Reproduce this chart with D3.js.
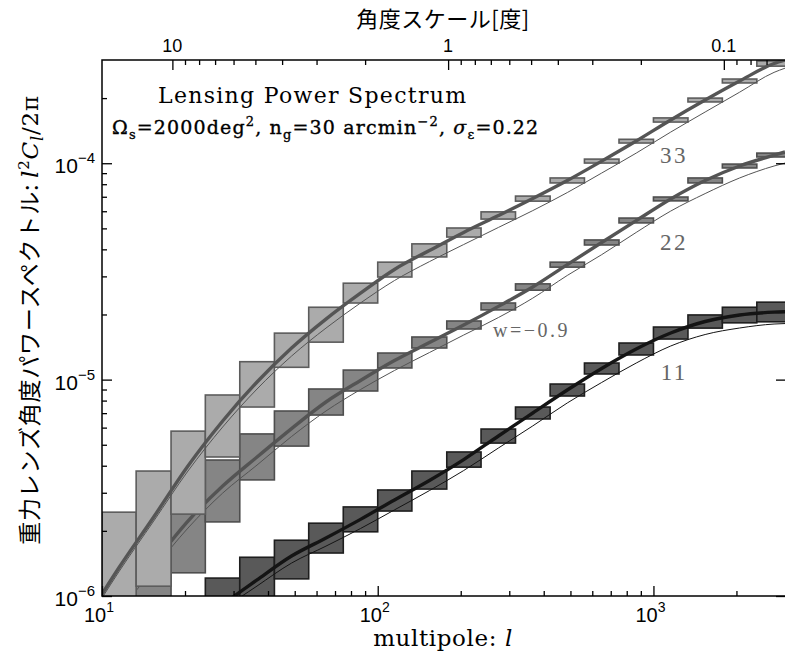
<!DOCTYPE html>
<html>
<head>
<meta charset="utf-8">
<script src="https://cdn.jsdelivr.net/npm/d3@7"></script>
<style>
  body { margin: 0; background: #fff; }
  svg { display: block; }
</style>
</head>
<body>
<svg id="chart" width="785" height="652"></svg>
<script>
// multipole bin edges (8 bins per decade)
const binEdges = [10, 13.3, 17.8, 23.7, 31.6, 42.2, 56.2, 75.0, 100, 133, 178, 237, 316, 422, 562, 750, 1000, 1334, 1778, 2371, 3162]

// error boxes: lower / upper value in each bin (null = not shown)
const box11Lo = [null, null, null, 7.3e-7, 9.5e-7, 1.20e-6, 1.58e-6, 1.98e-6, 2.47e-6, 3.12e-6, 3.94e-6, 5.09e-6, 6.58e-6, 8.40e-6, 1.062e-5, 1.30e-5, 1.54e-5, 1.73e-5, 1.83e-5, 1.85e-5]
const box11Hi = [null, null, null, 1.21e-6, 1.51e-6, 1.81e-6, 2.17e-6, 2.58e-6, 3.09e-6, 3.78e-6, 4.63e-6, 5.91e-6, 7.47e-6, 9.54e-6, 1.193e-5, 1.476e-5, 1.75e-5, 1.99e-5, 2.16e-5, 2.28e-5]
const box22Lo = [null, 5.28e-7, 1.28e-6, 2.20e-6, 3.44e-6, 4.93e-6, 6.86e-6, 8.86e-6, 1.132e-5, 1.40e-5, 1.714e-5, 2.10e-5, 2.59e-5, 3.31e-5, 4.19e-5, 5.30e-5, 6.70e-5, 8.11e-5, 9.51e-5, 1.069e-4]
const box22Hi = [null, 2.0e-6, 3.3e-6, 4.25e-6, 5.61e-6, 7.16e-6, 9.05e-6, 1.107e-5, 1.327e-5, 1.574e-5, 1.866e-5, 2.26e-5, 2.77e-5, 3.49e-5, 4.42e-5, 5.58e-5, 6.98e-5, 8.55e-5, 9.91e-5, 1.114e-4]
const box33Lo = [8.4e-7, 1.11e-6, 2.39e-6, 4.39e-6, 7.47e-6, 1.14e-5, 1.49e-5, 2.26e-5, 2.98e-5, 3.69e-5, 4.56e-5, 5.52e-5, 6.68e-5, 8.11e-5, 1.002e-4, 1.24e-4, 1.55e-4, 1.92e-4, 2.35e-4, 2.81e-4]
const box33Hi = [2.44e-6, 3.78e-6, 5.78e-6, 8.49e-6, 1.21e-5, 1.64e-5, 2.16e-5, 2.79e-5, 3.49e-5, 4.24e-5, 5.02e-5, 5.96e-5, 7.05e-5, 8.55e-5, 1.045e-4, 1.29e-4, 1.62e-4, 2.00e-4, 2.45e-4, 2.97e-4]

// model curves (thick = fiducial, thin = w=-0.9), sampled at these multipoles
const curveL = [10, 11.5, 15.4, 20.5, 27.4, 36.5, 48.7, 64.9, 86.6, 115, 154, 205, 274, 365, 487, 649, 866, 1155, 1540, 2054, 2738, 3000]
const fid11 = [2.67e-7, 3.31e-7, 4.65e-7, 6.53e-7, 9.09e-7, 1.186e-6, 1.53e-6, 1.853e-6, 2.26e-6, 2.78e-6, 3.42e-6, 4.27e-6, 5.49e-6, 7.01e-6, 8.95e-6, 1.126e-5, 1.385e-5, 1.642e-5, 1.856e-5, 1.989e-5, 2.05e-5, 2.06e-5]
const alt11 = [2.56e-7, 3.17e-7, 4.45e-7, 6.19e-7, 8.62e-7, 1.112e-6, 1.42e-6, 1.70e-6, 2.05e-6, 2.50e-6, 3.07e-6, 3.80e-6, 4.83e-6, 6.11e-6, 7.80e-6, 9.70e-6, 1.193e-5, 1.43e-5, 1.616e-5, 1.732e-5, 1.807e-5, 1.816e-5]
const fid22 = [6.89e-7, 8.80e-7, 1.42e-6, 2.22e-6, 3.22e-6, 4.39e-6, 5.94e-6, 7.88e-6, 9.91e-6, 1.225e-5, 1.484e-5, 1.787e-5, 2.18e-5, 2.68e-5, 3.40e-5, 4.30e-5, 5.43e-5, 6.84e-5, 8.32e-5, 9.71e-5, 1.09e-4, 1.127e-4]
const alt22 = [6.53e-7, 8.35e-7, 1.333e-6, 2.06e-6, 2.99e-6, 4.03e-6, 5.46e-6, 7.16e-6, 9.00e-6, 1.102e-5, 1.334e-5, 1.607e-5, 1.936e-5, 2.38e-5, 3.03e-5, 3.78e-5, 4.79e-5, 6.01e-5, 7.24e-5, 8.55e-5, 9.71e-5, 1.002e-4]
const fid33 = [1.021e-6, 1.347e-6, 2.318e-6, 3.99e-6, 6.44e-6, 9.75e-6, 1.40e-5, 1.905e-5, 2.51e-5, 3.23e-5, 3.95e-5, 4.79e-5, 5.73e-5, 6.87e-5, 8.32e-5, 1.023e-4, 1.267e-4, 1.585e-4, 1.96e-4, 2.40e-4, 2.89e-4, 3.00e-4]
const alt33 = [9.79e-7, 1.291e-6, 2.22e-6, 3.78e-6, 6.04e-6, 9.05e-6, 1.285e-5, 1.73e-5, 2.26e-5, 2.87e-5, 3.51e-5, 4.21e-5, 5.05e-5, 6.04e-5, 7.32e-5, 9.01e-5, 1.114e-4, 1.393e-4, 1.725e-4, 2.13e-4, 2.63e-4, 2.75e-4]

// ticks
const xMajor = [10, 100, 1000]
const xMajorExp = ["1", "2", "3"]
const xMinor = [20, 30, 40, 50, 60, 70, 80, 90, 200, 300, 400, 500, 600, 700, 800, 900, 2000]
const yMajor = [1e-6, 1e-5, 1e-4]
const yMajorExp = ["\u22126", "\u22125", "\u22124"]
const yMinor = [2e-6, 3e-6, 4e-6, 5e-6, 6e-6, 7e-6, 8e-6, 9e-6, 2e-5, 3e-5, 4e-5, 5e-5, 6e-5, 7e-5, 8e-5, 9e-5, 2e-4]
const topMajor = [10, 1, 0.1]
const topLabels = ["10", "1", "0.1"]
const topMinor = [9, 8, 7, 6, 5, 4, 3, 2, 0.9, 0.8, 0.7, 0.6, 0.5, 0.4, 0.3, 0.2, 0.09, 0.08, 0.07]

const L = 102, R = 786, T = 60, B = 596

const svg = d3.select("#chart")

const x = d3.scaleLog().domain([10, 3000]).range([L, 785])
const y = d3.scaleLog().domain([1e-6, 3e-4]).range([B, T])
const xTop = d3.scaleLog().domain([18, 0.06]).range([L, 785]) // degrees = 180 / l

svg.append("clipPath").attr("id", "plotclip")
  .append("rect").attr("x", L).attr("y", T).attr("width", R - L).attr("height", B - T)

const plot = svg.append("g").attr("clip-path", "url(#plotclip)")

const series = [
  { lo: box11Lo, hi: box11Hi, fid: fid11, alt: alt11, fill: "#595959", stroke: "#1e1e1e", line: "#141414" },
  { lo: box22Lo, hi: box22Hi, fid: fid22, alt: alt22, fill: "#858585", stroke: "#4e4e4e", line: "#545454" },
  { lo: box33Lo, hi: box33Hi, fid: fid33, alt: alt33, fill: "#ababab", stroke: "#5c5c5c", line: "#555555" }
]

const line = d3.line()
  .x((d, i) => x(curveL[i]))
  .y(d => y(d))
  .curve(d3.curveMonotoneX)

series.forEach(s => {
  const bins = d3.range(binEdges.length - 1).filter(i => s.lo[i] != null)
  plot.append("g").selectAll("rect")
    .data(bins)
    .enter().append("rect")
    .attr("x", i => x(binEdges[i]))
    .attr("width", i => x(binEdges[i + 1]) - x(binEdges[i]))
    .attr("y", i => y(s.hi[i]))
    .attr("height", i => y(s.lo[i]) - y(s.hi[i]))
    .attr("fill", s.fill)
    .attr("stroke", s.stroke)
    .attr("stroke-width", 1.6)

  plot.append("path").datum(s.alt)
    .attr("d", line)
    .attr("fill", "none")
    .attr("stroke", s.line)
    .attr("stroke-width", 1)

  plot.append("path").datum(s.fid)
    .attr("d", line)
    .attr("fill", "none")
    .attr("stroke", s.line)
    .attr("stroke-width", 3.4)
})

// inward tick marks
function ticks(axis, transform, vals, size) {
  svg.append("g")
    .attr("transform", transform)
    .call(axis.tickValues(vals).tickSize(-size).tickSizeOuter(0).tickFormat(""))
    .call(g => g.select(".domain").remove())
    .call(g => g.selectAll("line").attr("stroke", "#000").attr("stroke-width", 1.3))
}
ticks(d3.axisBottom(x), `translate(0,${B})`, xMajor, 10)
ticks(d3.axisBottom(x), `translate(0,${B})`, xMinor, 5)
ticks(d3.axisTop(xTop), `translate(0,${T})`, topMajor, 10)
ticks(d3.axisTop(xTop), `translate(0,${T})`, topMinor, 5)
ticks(d3.axisLeft(y), `translate(${L},0)`, yMajor, 10)
ticks(d3.axisLeft(y), `translate(${L},0)`, yMinor, 5)
ticks(d3.axisRight(y), `translate(${R},0)`, yMajor, 10)

// frame
svg.append("rect")
  .attr("x", L).attr("y", T).attr("width", R - L).attr("height", B - T)
  .attr("fill", "none").attr("stroke", "#000").attr("stroke-width", 1.5)

// helper: text made of parts with vertical shifts
function richText(sel, parts) {
  let prev = 0
  parts.forEach(p => {
    const shift = p.shift || 0
    const t = sel.append("tspan").text(p.t).attr("dy", shift - prev)
    if (p.size) t.attr("font-size", p.size)
    if (p.italic) t.attr("font-style", "italic")
    if (p.family) t.attr("font-family", p.family)
    prev = shift
  })
}

const sans = "'Liberation Sans', Arial, sans-serif"
const serif = "'DejaVu Serif', serif"

// bottom tick labels
xMajor.forEach((v, i) => {
  const t = svg.append("text")
    .attr("x", x(v) - 3).attr("y", B + 26)
    .attr("text-anchor", "middle")
    .attr("font-family", sans).attr("font-size", 20)
  richText(t, [{ t: "10" }, { t: xMajorExp[i], shift: -10, size: 14 }])
})

// left tick labels
yMajor.forEach((v, i) => {
  const t = svg.append("text")
    .attr("x", 95).attr("y", y(v) + 10)
    .attr("text-anchor", "end")
    .attr("font-family", sans).attr("font-size", 21)
  richText(t, [{ t: "10" }, { t: yMajorExp[i], shift: -10, size: 15 }])
})

// top tick labels
topMajor.forEach((v, i) => {
  svg.append("text")
    .attr("x", xTop(v)).attr("y", 52)
    .attr("text-anchor", "middle")
    .attr("font-family", sans).attr("font-size", 18)
    .text(topLabels[i])
})

// axis titles
svg.append("text")
  .attr("x", 443).attr("y", 27)
  .attr("text-anchor", "middle")
  .attr("font-family", "'Noto Sans CJK JP', sans-serif").attr("font-size", 22)
  .attr("letter-spacing", 0.5)
  .text("角度スケール[度]")

const xt = svg.append("text")
  .attr("x", 443).attr("y", 646)
  .attr("text-anchor", "middle")
  .attr("font-family", serif).attr("font-size", 23)
  .attr("letter-spacing", 0.6)
richText(xt, [{ t: "multipole: " }, { t: "l", italic: true }])

const yt = svg.append("text")
  .attr("transform", "translate(38,320) rotate(-90)")
  .attr("text-anchor", "middle")
  .attr("font-family", "'Noto Sans CJK JP', sans-serif").attr("font-size", 23)
  .attr("letter-spacing", 0.8)
richText(yt, [
  { t: "重力レンズ角度パワースペクトル: " },
  { t: "l", italic: true, family: serif },
  { t: "2", shift: -9, size: 15, family: serif },
  { t: "C", italic: true, family: serif },
  { t: "l", shift: 5, size: 16, italic: true, family: serif },
  { t: "/2π", family: serif }
])

// chart title block
svg.append("text")
  .attr("x", 158).attr("y", 103)
  .attr("font-family", serif).attr("font-size", 22)
  .attr("letter-spacing", 1.3)
  .text("Lensing Power Spectrum")

const sub = svg.append("text")
  .attr("x", 112).attr("y", 134)
  .attr("font-family", serif).attr("font-size", 19)
  .attr("stroke", "#000").attr("stroke-width", 0.35)
  .attr("letter-spacing", 1.15)
richText(sub, [
  { t: "Ω" }, { t: "s", shift: 5, size: 13 },
  { t: "=2000deg" }, { t: "2", shift: -8, size: 13 },
  { t: ", n" }, { t: "g", shift: 5, size: 13 },
  { t: "=30 arcmin" }, { t: "\u22122", shift: -8, size: 13 },
  { t: ", " }, { t: "σ", italic: true }, { t: "ε", shift: 5, size: 13 },
  { t: "=0.22" }
])

// curve labels
const labels = [
  { t: "33", l: 1057, v: 1.0e-4, size: 23 },
  { t: "22", l: 1057, v: 3.97e-5, size: 23 },
  { t: "11", l: 1062, v: 9.96e-6, size: 23 },
  { t: "w=\u22120.9", l: 262, v: 1.57e-5, size: 20 }
]
labels.forEach(d => {
  svg.append("text")
    .attr("x", x(d.l)).attr("y", y(d.v))
    .attr("font-family", "'Liberation Serif', serif").attr("font-size", d.size)
    .attr("letter-spacing", 2.5)
    .attr("fill", "#666")
    .text(d.t)
})
</script>
</body>
</html>
